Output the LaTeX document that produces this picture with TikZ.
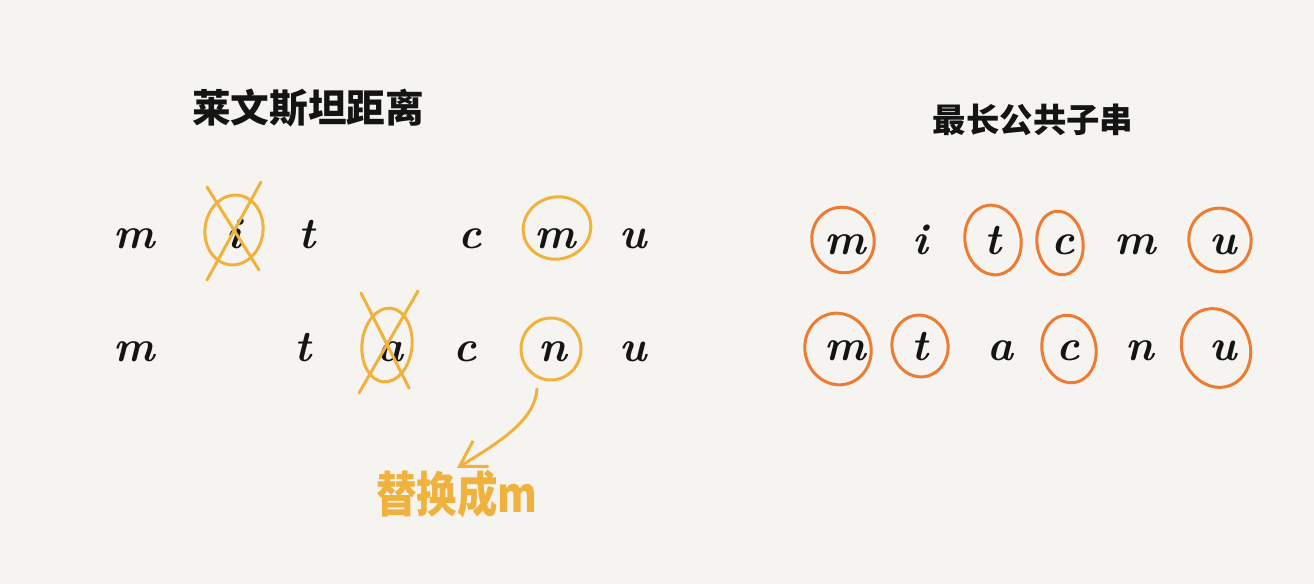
\documentclass[tikz,border=0pt]{standalone}
\usepackage{fontspec}
\newfontfamily\cjk{Noto Sans CJK SC}
\usepackage{tikz}
\usetikzlibrary{arrows.meta}
\definecolor{paper}{RGB}{246,244,240}
\definecolor{ink}{RGB}{20,20,20}
\definecolor{ringyellow}{RGB}{240,178,60}
\definecolor{ringorange}{RGB}{237,123,50}

\begin{document}
\begin{tikzpicture}[
  x=0.02cm, y=-0.02cm,
  letter/.style={anchor=base, inner sep=0pt, text=ink, font=\fontsize{25}{25}\selectfont\bfseries\itshape},
  title/.style={text=ink, font=\cjk\bfseries\fontsize{22}{22}\selectfont},
  ringY/.style={draw=ringyellow, line width=1.7pt},
  ringO/.style={draw=ringorange, line width=1.7pt},
  strike/.style={draw=ringyellow, line width=1.7pt, line cap=round},
  note/.style={-{Straight Barb[length=5mm, width=6mm]}, draw=ringyellow, line width=1.7pt, line cap=round}
]
\fill[paper] (0,0) rectangle (1314,584);
% --- titles ---
\node[title] (tl) at (308,108) {莱文斯坦距离};
\node[title, font=\cjk\bfseries\fontsize{19}{19}\selectfont] (tr) at (1033,120) {最长公共子串};
% --- left, row 1: m i t c m u ---
\node[letter] (la1) at (134,248) {m};
\node[letter] (la2) at (234,248) {i};
\node[letter] (la3) at (307,248) {t};
\node[letter] (la4) at (470,248) {c};
\node[letter] (la5) at (555,248) {m};
\node[letter] (la6) at (633,248) {u};
% --- left, row 2: m t a c n u ---
\node[letter] (lb1) at (134,361) {m};
\node[letter] (lb2) at (303,361) {t};
\node[letter] (lb3) at (390,361) {a};
\node[letter] (lb4) at (465,361) {c};
\node[letter] (lb5) at (553,361) {n};
\node[letter] (lb6) at (633,361) {u};
% --- left, marks ---
\draw[ringY, rotate around={-8:(234,230)}] (234,230) ellipse [x radius=29, y radius=35];
\draw[strike] (207,187) -- (259,270);
\draw[strike] (261,182) -- (207,280);
\draw[ringY, rotate around={-6:(387,345)}] (387,345) ellipse [x radius=25, y radius=37];
\draw[strike] (361,293) -- (409,388);
\draw[strike] (418,291) -- (359,393);
\draw[ringY, rotate around={15:(557,228)}] (557,228) ellipse [x radius=34, y radius=31];
\draw[ringY] (551,349) ellipse [x radius=30, y radius=31];
% --- replace note ---
\node[anchor=north, inner sep=1pt, text=ringyellow, font=\cjk\bfseries\fontsize{23}{23}\selectfont] (repl) at (457,468) {\scalebox{1}[1.2]{替换成m}};
\coordinate (tail) at (537,389);
\draw[note] (tail) .. controls (535,420) and (500,442) .. (repl.north);
% --- right, row 1: m i t c m u ---
\node[letter] (ra1) at (845,255) {m};
\node[letter] (ra2) at (920,255) {i};
\node[letter] (ra3) at (993,255) {t};
\node[letter] (ra4) at (1063,255) {c};
\node[letter] (ra5) at (1135,255) {m};
\node[letter] (ra6) at (1223,255) {u};
% --- right, row 2: m t a c n u ---
\node[letter] (rb1) at (845,360) {m};
\node[letter] (rb2) at (920,360) {t};
\node[letter] (rb3) at (1000,360) {a};
\node[letter] (rb4) at (1068,360) {c};
\node[letter] (rb5) at (1140,360) {n};
\node[letter] (rb6) at (1223,360) {u};
% --- right, common letters ---
\draw[ringO, rotate around={20:(843,240)}] (843,240) ellipse [x radius=31, y radius=33];
\draw[ringO, rotate around={10:(993,240)}] (993,240) ellipse [x radius=28, y radius=35];
\draw[ringO, rotate around={8:(1060,243)}] (1060,243) ellipse [x radius=23, y radius=32];
\draw[ringO, rotate around={25:(1220,240)}] (1220,240) ellipse [x radius=31, y radius=32];
\draw[ringO, rotate around={15:(838,349)}] (838,349) ellipse [x radius=33, y radius=36];
\draw[ringO, rotate around={10:(920,346)}] (920,346) ellipse [x radius=28, y radius=31];
\draw[ringO, rotate around={10:(1069,349)}] (1069,349) ellipse [x radius=27, y radius=34];
\draw[ringO, rotate around={20:(1216,348)}] (1216,348) ellipse [x radius=34, y radius=40];
\end{tikzpicture}
\end{document}
